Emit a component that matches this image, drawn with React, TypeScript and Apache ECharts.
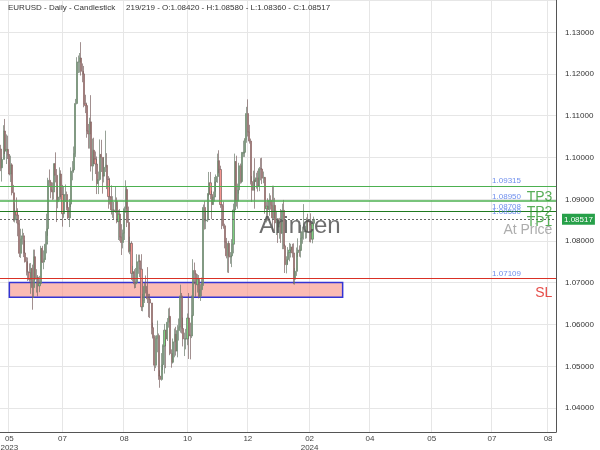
import React, { useEffect, useRef } from 'react';
import * as echarts from 'echarts';

// ---- Data (EURUSD daily, 219 bars; open = previous close) ----
const firstOpen = 1.102;

const closesMay = [1.0975, 1.0995, 1.1063, 1.1015, 1.1019, 1.1005, 1.096, 1.0982, 1.0915, 1.085, 1.0871, 1.0862, 1.084, 1.077, 1.0805, 1.0812, 1.0771, 1.075, 1.0726, 1.0724, 1.0707, 1.0734, 1.0688];
const highsMay = [1.103, 1.1, 1.1077, 1.1092, 1.1055, 1.1052, 1.1008, 1.1004, 1.0986, 1.0934, 1.089, 1.0904, 1.0878, 1.085, 1.0829, 1.0829, 1.0819, 1.0801, 1.0761, 1.076, 1.0746, 1.0747, 1.0743];
const lowsMay = [1.0967, 1.0942, 1.0995, 1.1008, 1.0984, 1.0996, 1.0957, 1.0941, 1.0909, 1.0846, 1.0844, 1.0842, 1.0811, 1.0761, 1.0759, 1.0791, 1.0761, 1.0748, 1.0717, 1.0704, 1.0702, 1.0673, 1.0635];

const closesJun = [1.0762, 1.0708, 1.0713, 1.0692, 1.0698, 1.0782, 1.0749, 1.0756, 1.0792, 1.0829, 1.0945, 1.094, 1.0922, 1.0917, 1.0985, 1.0957, 1.0894, 1.0905, 1.096, 1.0911, 1.0865, 1.0909];
const highsJun = [1.0779, 1.0779, 1.0732, 1.0718, 1.0716, 1.0788, 1.0788, 1.0777, 1.0823, 1.0865, 1.0951, 1.0971, 1.094, 1.094, 1.0985, 1.1012, 1.0972, 1.0934, 1.0976, 1.0969, 1.0934, 1.093];
const lowsJun = [1.0663, 1.0705, 1.0676, 1.0667, 1.0677, 1.0696, 1.0747, 1.0732, 1.0754, 1.077, 1.0812, 1.093, 1.0902, 1.0898, 1.0899, 1.094, 1.0845, 1.0878, 1.0897, 1.0899, 1.0834, 1.0855];

const closesJul = [1.0911, 1.088, 1.0855, 1.0888, 1.0967, 1.097, 1.1009, 1.1129, 1.1228, 1.1228, 1.1238, 1.1206, 1.12, 1.1128, 1.1124, 1.1063, 1.1056, 1.1085, 1.0979, 1.1017, 1.0996];
const highsJul = [1.0935, 1.0918, 1.0893, 1.09, 1.0976, 1.0991, 1.1026, 1.114, 1.124, 1.1244, 1.125, 1.1276, 1.1225, 1.1219, 1.115, 1.1131, 1.108, 1.1095, 1.1149, 1.1045, 1.1047];
const lowsJul = [1.0893, 1.0873, 1.0852, 1.0833, 1.0881, 1.0945, 1.0963, 1.1001, 1.1127, 1.1202, 1.1203, 1.1196, 1.118, 1.112, 1.1106, 1.1047, 1.1021, 1.1021, 1.0966, 1.0944, 1.0984];

const closesAug = [1.0984, 1.0937, 1.0947, 1.1007, 1.1, 1.0955, 1.0976, 1.0981, 1.0947, 1.0906, 1.0905, 1.0874, 1.0874, 1.0872, 1.0895, 1.0846, 1.0864, 1.0809, 1.0796, 1.0818, 1.0877, 1.0923, 1.0844];
const highsAug = [1.1014, 1.1002, 1.0966, 1.1043, 1.1042, 1.1, 1.1, 1.1064, 1.101, 1.0955, 1.0951, 1.0933, 1.0907, 1.0893, 1.093, 1.0904, 1.0874, 1.0876, 1.084, 1.0827, 1.0882, 1.0945, 1.093];
const lowsAug = [1.096, 1.0912, 1.0912, 1.0944, 1.0965, 1.0913, 1.094, 1.0965, 1.0924, 1.0877, 1.0887, 1.0863, 1.0855, 1.085, 1.0867, 1.0842, 1.0802, 1.08, 1.0766, 1.0782, 1.0802, 1.0867, 1.0833];

const closesSep = [1.0775, 1.0794, 1.0722, 1.0726, 1.0697, 1.07, 1.075, 1.0752, 1.0732, 1.0642, 1.0657, 1.0691, 1.0679, 1.0661, 1.066, 1.0651, 1.0592, 1.057, 1.0502, 1.0566, 1.0573];
const highsSep = [1.0882, 1.081, 1.0799, 1.074, 1.0732, 1.0735, 1.0768, 1.0767, 1.0767, 1.0768, 1.0673, 1.0699, 1.0717, 1.0737, 1.0673, 1.0673, 1.0648, 1.0604, 1.0574, 1.0573, 1.0609];
const lowsSep = [1.0772, 1.0768, 1.0706, 1.0703, 1.0686, 1.0687, 1.0702, 1.0721, 1.0713, 1.0632, 1.0631, 1.0651, 1.0674, 1.0651, 1.0617, 1.0615, 1.0576, 1.0566, 1.0488, 1.0495, 1.0533];

const closesOct = [1.0476, 1.0468, 1.0503, 1.0548, 1.0586, 1.0565, 1.0605, 1.0619, 1.053, 1.0509, 1.0558, 1.0576, 1.0536, 1.0585, 1.0593, 1.0668, 1.059, 1.0565, 1.0565, 1.0565, 1.0615, 1.0574];
const highsOct = [1.0578, 1.049, 1.0531, 1.0552, 1.0601, 1.0576, 1.0615, 1.0638, 1.064, 1.054, 1.0566, 1.059, 1.0594, 1.0598, 1.0614, 1.0695, 1.0675, 1.0616, 1.058, 1.0589, 1.0626, 1.0675];
const lowsOct = [1.0467, 1.0448, 1.0465, 1.0491, 1.0482, 1.0495, 1.056, 1.0592, 1.0526, 1.0496, 1.0506, 1.0521, 1.0525, 1.0521, 1.0561, 1.058, 1.0578, 1.0547, 1.0524, 1.054, 1.055, 1.0517];

const closesNov = [1.0572, 1.0621, 1.0729, 1.0721, 1.0695, 1.0708, 1.0666, 1.0683, 1.0697, 1.088, 1.0848, 1.085, 1.0913, 1.0939, 1.0911, 1.0887, 1.0905, 1.0941, 1.0954, 1.0992, 1.0971, 1.0887];
const highsNov = [1.0604, 1.0669, 1.0756, 1.0748, 1.0722, 1.072, 1.0718, 1.0696, 1.0712, 1.0887, 1.0895, 1.0871, 1.0914, 1.0965, 1.0965, 1.092, 1.0918, 1.0953, 1.0959, 1.1009, 1.1017, 1.098];
const lowsNov = [1.0516, 1.0567, 1.0619, 1.0696, 1.0666, 1.0676, 1.0662, 1.0656, 1.0667, 1.0692, 1.0827, 1.0828, 1.0845, 1.0907, 1.09, 1.0852, 1.0887, 1.0894, 1.0918, 1.0939, 1.0962, 1.0879];

const closesDec = [1.0884, 1.0836, 1.0797, 1.0764, 1.0794, 1.0761, 1.0764, 1.0792, 1.0874, 1.099, 1.0895, 1.0922, 1.098, 1.0942, 1.101, 1.1012, 1.1043, 1.1105, 1.1061, 1.1039];
const highsDec = [1.0888, 1.0894, 1.0841, 1.0807, 1.0794, 1.08, 1.0773, 1.0804, 1.0889, 1.1009, 1.1004, 1.0937, 1.0987, 1.0985, 1.1013, 1.104, 1.1046, 1.1121, 1.1139, 1.1078];
const lowsDec = [1.0828, 1.0829, 1.0782, 1.0758, 1.0724, 1.0723, 1.0745, 1.0737, 1.077, 1.0866, 1.0882, 1.0877, 1.0913, 1.0937, 1.0938, 1.1001, 1.1001, 1.1035, 1.105, 1.1033];

const closesJan = [1.0942, 1.0921, 1.0946, 1.0942, 1.0951, 1.0931, 1.0973, 1.0972, 1.095, 1.0952, 1.0877, 1.0883, 1.0875, 1.0897, 1.0885, 1.0855, 1.0885, 1.0843, 1.0853, 1.0833, 1.0845, 1.0818];
const highsJan = [1.1045, 1.0955, 1.0968, 1.0998, 1.0963, 1.0968, 1.0977, 1.0998, 1.0999, 1.0966, 1.0953, 1.0893, 1.0902, 1.0914, 1.0909, 1.0932, 1.0932, 1.0903, 1.0872, 1.0845, 1.0855, 1.0876];
const lowsJan = [1.0935, 1.0893, 1.0921, 1.0877, 1.0925, 1.0918, 1.0919, 1.0945, 1.0936, 1.0938, 1.0865, 1.0844, 1.0848, 1.086, 1.0875, 1.0822, 1.085, 1.0822, 1.0814, 1.0795, 1.0805, 1.0795];

const closesFebMar = [1.0873, 1.0788, 1.0743, 1.0755, 1.0772, 1.0778, 1.0785, 1.0771, 1.0708, 1.0727, 1.0772, 1.0778, 1.0777, 1.0807, 1.0822, 1.0822, 1.0822, 1.085, 1.0845, 1.0838, 1.0804, 1.0842, 1.08517];
const highsFebMar = [1.0889, 1.0898, 1.0792, 1.0763, 1.0785, 1.0795, 1.0793, 1.0793, 1.0794, 1.0735, 1.0784, 1.0806, 1.0789, 1.0838, 1.0834, 1.0888, 1.0836, 1.0856, 1.0865, 1.0848, 1.0866, 1.085, 1.0858];
const lowsFebMar = [1.078, 1.078, 1.0723, 1.0722, 1.0743, 1.0751, 1.076, 1.076, 1.0696, 1.0695, 1.0716, 1.0761, 1.0762, 1.076, 1.0793, 1.0803, 1.0805, 1.0806, 1.0821, 1.0797, 1.0796, 1.0794, 1.0836];

// ---- Axis ticks ----
const totalSlots = 387;
const xTickIndex = [6, 43, 86, 130, 172, 215, 257, 300, 342, 381];
const xTickLabels = ['05\n2023', '07', '08', '10', '12', '02\n2024', '04', '05', '07', '08'];

// ---- Levels ----
const currentPrice = 1.08517;
const greenLevels = [1.09315, 1.0895, 1.08708];
const greenColors = ['#4cb050', '#4cb050', '#1f7a1f'];
const greenWidths = [1.2, 1.6, 1.2];
const slLevel = 1.07109;
const priceTagLevels = [1.09315, 1.0895, 1.08708, 1.0858, 1.07109];
const tpNames = ['TP3', 'TP2', 'TP1'];
const tpLevels = [1.0895, 1.08708, 1.0858];
const tpOffsets = [-5, 0, 4];
const zoneTop = 1.07;
const zoneBottom = 1.0665;
const zoneStart = 6;
const zoneEnd = 238;

const headerLeft = 'EURUSD - Daily - Candlestick';
const headerRight = '219/219 - O:1.08420 - H:1.08580 - L:1.08360 - C:1.08517';

const FONT = 'Liberation Sans, Arial, sans-serif';

function buildOhlc() {
  const closes = [...closesMay, ...closesJun, ...closesJul, ...closesAug, ...closesSep, ...closesOct, ...closesNov, ...closesDec, ...closesJan, ...closesFebMar];
  const highs = [...highsMay, ...highsJun, ...highsJul, ...highsAug, ...highsSep, ...highsOct, ...highsNov, ...highsDec, ...highsJan, ...highsFebMar];
  const lows = [...lowsMay, ...lowsJun, ...lowsJul, ...lowsAug, ...lowsSep, ...lowsOct, ...lowsNov, ...lowsDec, ...lowsJan, ...lowsFebMar];
  const out: number[][] = [];
  let prev = firstOpen;
  for (let i = 0; i < closes.length; i++) {
    const o = prev;
    const c = closes[i];
    const h = Math.max(highs[i], o, c);
    const l = Math.min(lows[i], o, c);
    out.push([o, c, l, h]);
    prev = c;
  }
  return out;
}

export default function App() {
  const ref = useRef<HTMLDivElement>(null);
  useEffect(() => {
    if (!ref.current) return;
    const chart = echarts.init(ref.current, null, { renderer: 'svg' });
    const ohlc = buildOhlc();
    const cats = Array.from({ length: totalSlots }, (_, i) => String(i));
    const tickSet = new Set(xTickIndex);
    const tickFn = (idx: number) => tickSet.has(idx);

    const levelLine = (v: number, color: string, width: number, type: any) => ({
      type: 'line',
      data: [],
      silent: true,
      z: 4,
      markLine: {
        silent: true,
        precision: 5,
        symbol: ['none', 'none'],
        label: { show: false },
        lineStyle: { color, width, type },
        emphasis: { disabled: true },
        data: [{ yAxis: v }],
      },
    });

    const lineSeries: any[] = greenLevels.map((v, i) => levelLine(v, greenColors[i], greenWidths[i], 'solid'));
    lineSeries.push(levelLine(slLevel, '#d93025', 1, 'solid'));
    const cur: any = levelLine(currentPrice, '#666', 1, [2, 2]);
    cur.markLine.label = {
      show: true,
      position: 'end',
      distance: 6,
      formatter: currentPrice.toFixed(5),
      backgroundColor: '#27a049',
      color: '#fff',
      padding: [2, 2, 1, 2],
      fontSize: 8,
      fontFamily: FONT,
    };
    lineSeries.push(cur);

    const labelData: any[] = [];
    priceTagLevels.forEach((v) => {
      labelData.push({
        value: [342, v],
        label: {
          show: true,
          position: 'right',
          distance: 0,
          offset: [0, -5],
          formatter: v.toFixed(5),
          color: '#4a72e8',
          fontSize: 8,
          fontFamily: FONT,
        },
      });
    });
    tpLevels.forEach((v, i) => {
      labelData.push({
        value: [384, v],
        label: {
          show: true,
          position: 'left',
          distance: 0,
          offset: [0, tpOffsets[i]],
          formatter: tpNames[i],
          color: '#2e9a2e',
          fontSize: 14,
          fontFamily: FONT,
        },
      });
    });
    labelData.push({
      value: [384, currentPrice],
      label: {
        show: true, position: 'left', distance: 0, offset: [0, 10],
        formatter: 'At Price', color: '#999', fontSize: 14, fontFamily: FONT,
      },
    });
    labelData.push({
      value: [384, slLevel],
      label: {
        show: true, position: 'left', distance: 0, offset: [0, 14],
        formatter: 'SL', color: '#e0201c', fontSize: 14, fontFamily: FONT,
      },
    });

    chart.setOption({
      animation: false,
      grid: { left: 0, right: 44, top: 0, bottom: 18, containLabel: false, outerBoundsMode: 'none' },
      xAxis: {
        type: 'category',
        data: cats,
        boundaryGap: true,
        axisLine: { show: true, lineStyle: { color: '#555', width: 1 } },
        axisTick: { show: false },
        axisLabel: {
          interval: tickFn,
          formatter: (_v: string, idx: number) => {
            const k = xTickIndex.indexOf(idx);
            return k >= 0 ? xTickLabels[k] : '';
          },
          fontSize: 8,
          lineHeight: 9,
          color: '#444',
          margin: 2,
          fontFamily: FONT,
        },
        splitLine: { show: true, interval: tickFn, lineStyle: { color: '#e6e6e6', width: 1 } },
      },
      yAxis: {
        type: 'value',
        position: 'right',
        min: 1.0342,
        max: 1.1377,
        splitNumber: 10,
        minInterval: 0.01,
        maxInterval: 0.01,
        axisLine: { show: true, lineStyle: { color: '#555', width: 1 } },
        axisTick: { show: false },
        axisLabel: {
          showMinLabel: false,
          showMaxLabel: false,
          formatter: (v: number) => (Math.abs(v * 100 - Math.round(v * 100)) < 1e-6 ? v.toFixed(5) : ''),
          fontSize: 8,
          color: '#333',
          margin: 9,
          fontFamily: FONT,
        },
        splitLine: { show: true, lineStyle: { color: '#e6e6e6', width: 1 } },
      },
      series: [
        {
          type: 'candlestick',
          data: ohlc,
          barWidth: 1.6,
          z: 3,
          itemStyle: {
            color: '#7cd07f',
            color0: '#f59590',
            borderColor: '#6a7a6a',
            borderColor0: '#7a6060',
            borderWidth: 0.7,
          },
          markArea: {
            silent: true,
            itemStyle: { color: 'rgba(247,150,140,0.65)', borderColor: '#3434d4', borderWidth: 1.5 },
            data: [[{ coord: [zoneStart, zoneTop] }, { coord: [zoneEnd, zoneBottom] }]],
          },
        },
        ...lineSeries,
        {
          type: 'scatter',
          symbolSize: 0,
          silent: true,
          data: labelData,
          z: 5,
        },
      ],
      graphic: [
        {
          type: 'text', x: 8, y: 7, z: 10,
          style: { text: headerLeft, fontSize: 8, fontFamily: FONT, fill: '#333', verticalAlign: 'middle' },
        },
        {
          type: 'text', x: 126, y: 7, z: 10,
          style: { text: headerRight, fontSize: 8, fontFamily: FONT, fill: '#333', verticalAlign: 'middle' },
        },
        {
          type: 'text', x: 300, y: 224, z: 10,
          style: { text: 'Arincen', fontSize: 24, fontFamily: FONT, fill: 'rgba(85,85,85,0.85)', align: 'center', verticalAlign: 'middle' },
        },
      ],
    });
    return () => chart.dispose();
  }, []);
  return <div ref={ref} style={{ position: 'fixed', left: 0, top: 0, width: 600, height: 450 }} />;
}
